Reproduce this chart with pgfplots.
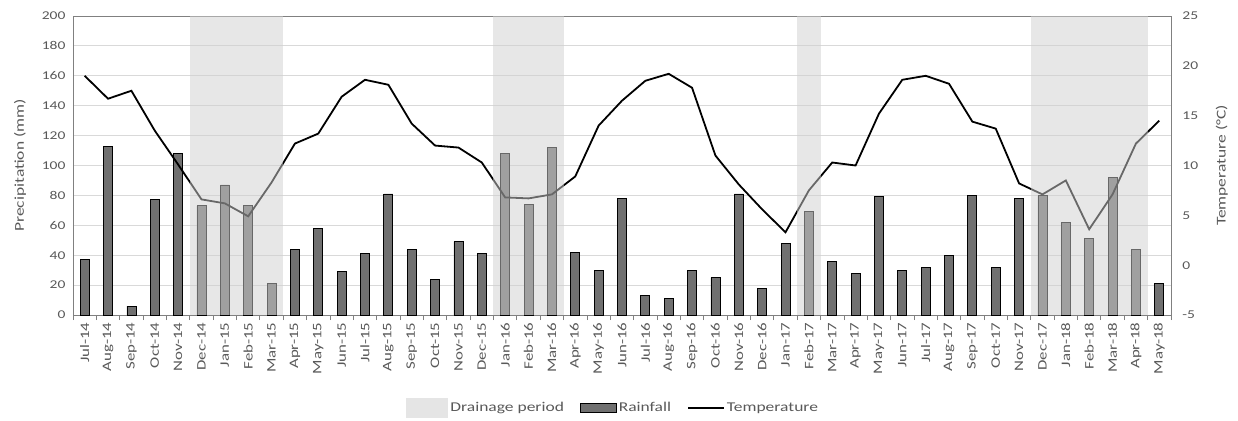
\documentclass[border=0pt]{standalone}
\usepackage{pgfplots}
\pgfplotsset{compat=1.18}
\usepackage{fontspec}
\setmainfont{Carlito}[FakeStretch=1.3]

\definecolor{txt}{HTML}{595959}
\definecolor{gridc}{HTML}{D9D9D9}
\definecolor{framec}{HTML}{808080}
\definecolor{barc}{HTML}{707070}
\definecolor{shade}{HTML}{D0D0D0}

\pgfplotstableread{
x rain
0 37
1 113
2 6
3 77
4 108
5 73
6 87
7 73
8 21
9 44
10 58
11 29
12 41
13 81
14 44
15 24
16 49
17 41
18 108
19 74
20 112
21 42
22 30
23 78
24 13
25 11
26 30
27 25
28 81
29 18
30 48
31 69
32 36
33 28
34 79
35 30
36 32
37 40
38 80
39 32
40 78
41 80
42 62
43 51
44 92
45 44
46 21
}\rain

\pgfplotstableread{
x temp
0 19.0
1 16.7
2 17.5
3 13.5
4 10.1
5 6.6
6 6.2
7 4.9
8 8.3
9 12.2
10 13.2
11 16.9
12 18.6
13 18.1
14 14.2
15 12.0
16 11.8
17 10.3
18 6.8
19 6.7
20 7.1
21 8.9
22 14.0
23 16.5
24 18.5
25 19.2
26 17.8
27 11.0
28 8.1
29 5.6
30 3.3
31 7.5
32 10.3
33 10.0
34 15.2
35 18.6
36 19.0
37 18.2
38 14.4
39 13.7
40 8.2
41 7.1
42 8.5
43 3.6
44 7.1
45 12.2
46 14.5
}\temp

\begin{document}
\begin{tikzpicture}
\pgfplotsset{
  common/.style={
    scale only axis, width=1098bp, height=299bp,
    xmin=-0.5, xmax=46.5,
    /pgf/number format/assume math mode=true,
    tick label style={font=\fontsize{12}{12}\selectfont, text=txt},
    label style={font=\fontsize{13.5}{14}\selectfont, text=txt},
  }
}
\begin{axis}[common,
  ymin=0, ymax=200, ytick={0,20,...,200},
  ymajorgrids, grid style={gridc, line width=0.8bp},
  axis line style={framec, line width=0.9bp},
  major tick length=0pt,
  ytick pos=left,
  xtick={0,...,46}, xtick pos=left,
  xticklabels={Jul-14,Aug-14,Sep-14,Oct-14,Nov-14,Dec-14,Jan-15,Feb-15,Mar-15,Apr-15,May-15,Jun-15,Jul-15,Aug-15,Sep-15,Oct-15,Nov-15,Dec-15,Jan-16,Feb-16,Mar-16,Apr-16,May-16,Jun-16,Jul-16,Aug-16,Sep-16,Oct-16,Nov-16,Dec-16,Jan-17,Feb-17,Mar-17,Apr-17,May-17,Jun-17,Jul-17,Aug-17,Sep-17,Oct-17,Nov-17,Dec-17,Jan-18,Feb-18,Mar-18,Apr-18,May-18},
  xticklabel style={rotate=90, anchor=east, xshift=-4bp, font=\fontsize{13}{13}\selectfont},
  minor xtick={-0.5,0.5,...,46.5},
  minor tick length=5bp, tick align=outside,
  minor tick style={framec, line width=0.8bp},
  ylabel={Precipitation (mm)},
  ylabel style={at={(axis description cs:-0.0483,0.5)}, anchor=center, rotate=0},
  yticklabel style={xshift=-4bp},
]
\addplot[ybar, bar width=9bp, fill=barc, draw=black, line width=0.8bp] table[x=x, y=rain] {\rain};
\end{axis}

\begin{axis}[common,
  ymin=-5, ymax=25, ytick={-5,0,...,25},
  axis x line=none, axis y line*=right,
  axis line style={framec, line width=0.9bp},
  major tick length=0pt,
  yticklabel style={xshift=8bp},
  ylabel={Temperature (°C)},
  ylabel style={at={(axis description cs:1.0464,0.5)}, anchor=center},
  legend columns=3,
  legend style={at={(0.492,-0.311)}, anchor=center, draw=none, fill=none,
    font=\fontsize{13.5}{14}\selectfont, text=txt,
    /tikz/every even column/.append style={column sep=14bp}},
]
\addlegendimage{legend image code/.code={\fill[fill=shade!55!white, draw=none] (0bp,-10bp) rectangle (42bp,10bp);}}
\addlegendentry{Drainage period}
\addlegendimage{legend image code/.code={\filldraw[fill=barc, draw=black, line width=0.8bp] (0bp,-4.5bp) rectangle (36bp,4.5bp);}}
\addlegendentry{Rainfall}
\addplot[black, line width=1.8bp, mark=none, legend image code/.code={\draw[black, line width=1.8bp] (0bp,0bp) -- (36bp,0bp);}] table[x=x, y=temp] {\temp};
\addlegendentry{Temperature}
\addplot[draw=none, fill=shade, fill opacity=0.5, forget plot] coordinates {(4.5,-5) (4.5,25) (8.5,25) (8.5,-5)} -- cycle;
\addplot[draw=none, fill=shade, fill opacity=0.5, forget plot] coordinates {(17.5,-5) (17.5,25) (20.5,25) (20.5,-5)} -- cycle;
\addplot[draw=none, fill=shade, fill opacity=0.5, forget plot] coordinates {(30.5,-5) (30.5,25) (31.5,25) (31.5,-5)} -- cycle;
\addplot[draw=none, fill=shade, fill opacity=0.5, forget plot] coordinates {(40.5,-5) (40.5,25) (45.5,25) (45.5,-5)} -- cycle;
\end{axis}
\pgfresetboundingbox
\path[use as bounding box] (-73bp,-106bp) rectangle (1165bp,315bp);
\end{tikzpicture}
\end{document}
